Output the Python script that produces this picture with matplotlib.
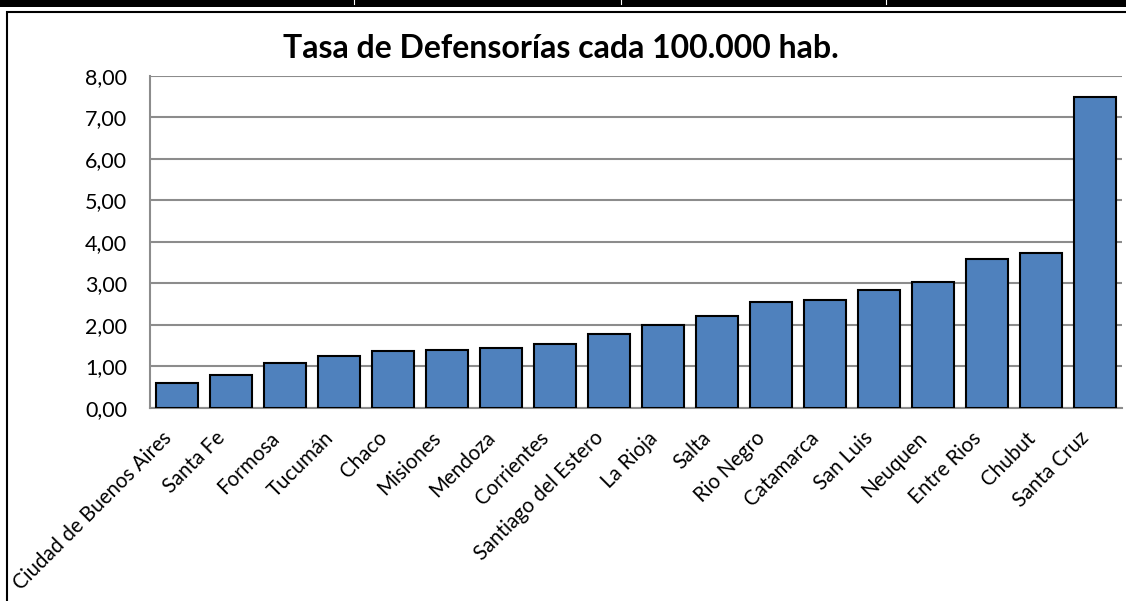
import matplotlib.pyplot as plt
from matplotlib.patches import Rectangle
from matplotlib.lines import Line2D
from matplotlib.ticker import FuncFormatter
from matplotlib.transforms import ScaledTranslation

provincias = ['Ciudad de Buenos Aires', 'Santa Fe', 'Formosa', 'Tucumán', 'Chaco',
              'Misiones', 'Mendoza', 'Corrientes', 'Santiago del Estero', 'La Rioja',
              'Salta', 'Rio Negro', 'Catamarca', 'San Luis', 'Neuquen', 'Entre Rios',
              'Chubut', 'Santa Cruz']
tasas = [0.60, 0.78, 1.07, 1.24, 1.36, 1.40, 1.43, 1.54, 1.78, 1.99,
         2.20, 2.54, 2.60, 2.84, 3.04, 3.58, 3.74, 7.50]
yticks = [0, 1, 2, 3, 4, 5, 6, 7, 8]

plt.rcParams['font.family'] = ['Lato', 'DejaVu Sans']

W, H = 1126, 601
fig = plt.figure(figsize=(W / 100, H / 100), dpi=100)

# marco del grafico y restos de la tabla arriba
fig.patches.append(Rectangle((0, 1 - 7 / H), 1, 7 / H, transform=fig.transFigure,
                             facecolor='black', edgecolor='none'))
for xp in [354, 621, 886]:
    fig.lines.append(Line2D([xp / W, xp / W], [1 - 4 / H, 1], transform=fig.transFigure,
                            color='white', lw=0.8))
fig.patches.append(Rectangle((7 / W, -0.05), 1.1, 1.05 - 12 / H, transform=fig.transFigure,
                             facecolor='none', edgecolor='black', lw=1.5))

ax = fig.add_axes([150 / W, 1 - 407.7 / H, (1122 - 150) / W, (407.7 - 76) / H])
x = range(len(provincias))
ax.bar(x, tasas, width=0.77, color='#4F81BD', edgecolor='black', linewidth=1.5, zorder=3)

ax.set_ylim(0, 8)
ax.set_xlim(-0.5, len(provincias) - 0.5)
ax.set_yticks(yticks)
ax.yaxis.set_major_formatter(FuncFormatter(lambda v, p: f'{v:.2f}'.replace('.', ',')))
ax.grid(axis='y', color='#8c8c8c', lw=1.5, zorder=0)
ax.set_xticks(list(x))
ax.set_xticklabels(provincias, rotation=45, ha='right', rotation_mode='anchor')
ax.tick_params(axis='both', length=0, labelsize=15.5)
ax.tick_params(axis='x', pad=8, labelsize=14.8)
ax.tick_params(axis='y', pad=16.5)
desplazar = ScaledTranslation(-16 / 100, -9 / 100, fig.dpi_scale_trans)
for lbl in ax.get_xticklabels():
    lbl.set_transform(lbl.get_transform() + desplazar)
for s in ['top', 'right']:
    ax.spines[s].set_visible(False)
for s in ['left', 'bottom']:
    ax.spines[s].set_color('#8c8c8c')
    ax.spines[s].set_linewidth(1.5)

fig.text(561 / W, 1 - 48 / H, 'Tasa de Defensorías cada 100.000 hab.', ha='center', va='center',
         fontsize=23, fontweight='bold')

fig.savefig('out.png', dpi=100)
